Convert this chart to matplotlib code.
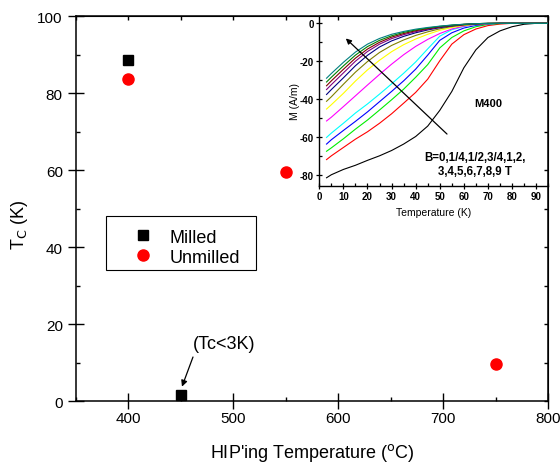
import matplotlib
matplotlib.use("Agg")
import matplotlib.pyplot as plt
from matplotlib.patches import Rectangle
from matplotlib.ticker import MultipleLocator

plt.rcParams['font.family'] = ['Liberation Sans', 'DejaVu Sans']
plt.rcParams['axes.unicode_minus'] = False

# Critical temperature vs HIP'ing temperature
milled_hip = [400, 450]
milled_tc = [88.7, 1.7]
unmilled_hip = [400, 550, 750]
unmilled_tc = [83.7, 59.5, 9.8]

# Inset: M(T) for sample M400 at fields B = 0 ... 9 T
temp_k = [3, 5, 10, 15, 20, 25, 30, 35, 40, 45, 50, 55, 60, 65, 70, 75, 80, 85, 90, 95]
m_b0 = [-81.6, -80.0, -77.2, -75.0, -72.4, -70.0, -67.2, -63.8, -59.8, -54.3, -46.0, -36.0, -23.5, -14.0, -7.5, -4.0, -1.8, -0.5, 0.0, 0.0]
m_b0_25 = [-72.0, -70.0, -65.6, -61.2, -57.3, -52.8, -47.8, -42.2, -36.5, -29.5, -19.8, -11.0, -6.0, -3.0, -1.2, -0.4, 0.0, 0.0, 0.0, 0.0]
m_b0_5 = [-67.6, -65.8, -61.0, -55.9, -51.1, -45.8, -40.4, -34.8, -28.5, -21.8, -13.0, -7.5, -4.0, -1.8, -0.6, -0.1, 0.0, 0.0, 0.0, 0.0]
m_b0_75 = [-63.8, -61.5, -56.6, -51.8, -46.8, -41.4, -36.0, -30.4, -24.2, -16.8, -9.0, -5.0, -2.5, -1.1, -0.3, 0.0, 0.0, 0.0, 0.0, 0.0]
m_b1 = [-60.3, -58.0, -52.8, -47.4, -42.6, -37.4, -32.0, -26.4, -20.4, -13.5, -6.8, -3.4, -1.7, -0.7, -0.2, 0.0, 0.0, 0.0, 0.0, 0.0]
m_b2 = [-51.6, -49.6, -44.0, -38.3, -32.6, -27.0, -21.6, -16.6, -12.2, -8.5, -5.4, -3.0, -1.5, -0.6, -0.2, 0.0, 0.0, 0.0, 0.0, 0.0]
m_b3 = [-45.3, -43.0, -37.0, -30.5, -24.6, -19.5, -15.0, -11.3, -8.3, -5.8, -3.7, -2.2, -1.1, -0.5, -0.1, 0.0, 0.0, 0.0, 0.0, 0.0]
m_b4 = [-41.2, -38.8, -32.2, -25.8, -20.2, -15.4, -11.7, -8.8, -6.4, -4.5, -2.9, -1.7, -0.9, -0.4, -0.1, 0.0, 0.0, 0.0, 0.0, 0.0]
m_b5 = [-37.6, -35.0, -28.8, -22.4, -16.9, -12.5, -9.3, -6.9, -5.0, -3.5, -2.3, -1.4, -0.7, -0.3, -0.1, 0.0, 0.0, 0.0, 0.0, 0.0]
m_b6 = [-35.0, -32.4, -26.2, -20.0, -14.9, -11.0, -8.1, -6.0, -4.4, -3.1, -2.0, -1.2, -0.6, -0.3, -0.1, 0.0, 0.0, 0.0, 0.0, 0.0]
m_b7 = [-33.0, -30.4, -24.3, -18.4, -13.6, -10.0, -7.3, -5.4, -3.9, -2.8, -1.8, -1.1, -0.6, -0.2, 0.0, 0.0, 0.0, 0.0, 0.0, 0.0]
m_b8 = [-31.0, -28.5, -22.5, -16.8, -12.3, -9.0, -6.6, -4.8, -3.5, -2.5, -1.6, -1.0, -0.5, -0.2, 0.0, 0.0, 0.0, 0.0, 0.0, 0.0]
m_b9 = [-29.0, -26.5, -20.6, -15.2, -11.0, -8.0, -5.8, -4.3, -3.1, -2.2, -1.5, -0.9, -0.5, -0.2, 0.0, 0.0, 0.0, 0.0, 0.0, 0.0]

inset_curves = [m_b0, m_b0_25, m_b0_5, m_b0_75, m_b1, m_b2, m_b3,
                m_b4, m_b5, m_b6, m_b7, m_b8, m_b9]
inset_colors = ['#000000', '#ff0000', '#00ee00', '#0000ff', '#00ffff', '#ff00ff',
                '#ffff00', '#808000', '#000080', '#800080', '#800000', '#008000',
                '#008080']

fig = plt.figure(figsize=(5.6, 4.64), dpi=100)
ax = fig.add_axes([0.1352, 0.1330, 0.8437, 0.8297])

ax.plot(milled_hip, milled_tc, linestyle='none', marker='s', markersize=7,
        color='black', label='Milled')
ax.plot(unmilled_hip, unmilled_tc, linestyle='none', marker='o', markersize=8,
        color='red', label='Unmilled')

ax.set_xlim(350, 800)
ax.set_ylim(0, 100)
ax.xaxis.set_major_locator(MultipleLocator(100))
ax.xaxis.set_minor_locator(MultipleLocator(50))
ax.yaxis.set_major_locator(MultipleLocator(20))
ax.yaxis.set_minor_locator(MultipleLocator(10))
ax.tick_params(which='major', direction='inout', length=11.5, width=1.0,
               labelsize=11, top=False, right=False)
ax.tick_params(which='minor', direction='in', length=3, width=1.0,
               top=False, right=False)
ax.tick_params(axis='x', which='major', pad=1)
for s in ax.spines.values():
    s.set_linewidth(1.1)

# inward ticks on the top and right frame
sx = ax.secondary_xaxis('top')
sx.xaxis.set_major_locator(MultipleLocator(100))
sx.xaxis.set_minor_locator(MultipleLocator(50))
sx.tick_params(which='both', direction='in', length=3, width=1.0, labeltop=False)
sy = ax.secondary_yaxis('right')
sy.yaxis.set_major_locator(MultipleLocator(20))
sy.yaxis.set_minor_locator(MultipleLocator(10))
sy.tick_params(which='both', direction='in', length=3, width=1.0, labelright=False)

ax.set_xlabel("HIP'ing Temperature ($^{\\mathrm{o}}$C)", fontsize=13, labelpad=12)
ax.set_ylabel("T$_{\\mathrm{C}}$ (K)", fontsize=13)
ax.yaxis.set_label_coords(-0.097, 0.4605)

# legend with a plain rectangular frame
ax.add_patch(Rectangle((0.0641, 0.341), 0.3175, 0.1403, transform=ax.transAxes,
                       fill=False, edgecolor='black', lw=0.8, zorder=4))
ax.legend(loc='upper left', bbox_to_anchor=(0.1234, 0.448), fontsize=13,
          frameon=False, handlelength=1.0, handletextpad=0.95, borderpad=0,
          labelspacing=0.15, borderaxespad=0)

ax.annotate('', xy=(451.2, 3.8), xytext=(461.7, 11.5),
            arrowprops=dict(arrowstyle='-|>', color='black', lw=0.9,
                            mutation_scale=9, shrinkA=0, shrinkB=0))
ax.text(491, 15.0, '(Tc<3K)', fontsize=13, ha='center', va='center')

# inset
ins = fig.add_axes([0.5702, 0.598, 0.4087, 0.3647])
ins.patch.set_alpha(0)
for m, c in zip(inset_curves, inset_colors):
    ins.plot(temp_k, m, color=c, lw=0.8)
ins.set_xlim(0, 95)
ins.set_ylim(-85.7, 3.7)
ins.xaxis.set_major_locator(MultipleLocator(10))
ins.xaxis.set_minor_locator(MultipleLocator(5))
ins.yaxis.set_major_locator(MultipleLocator(20))
ins.yaxis.set_minor_locator(MultipleLocator(10))
ins.tick_params(which='major', direction='inout', length=5, width=0.9,
                labelsize=7, pad=1.5, top=False, right=False)
ins.tick_params(which='minor', direction='in', length=2, width=0.9,
                top=False, right=False)
for lab in ins.get_xticklabels() + ins.get_yticklabels():
    lab.set_fontweight('bold')
ins.spines['top'].set_visible(False)
ins.spines['right'].set_visible(False)
for k in ('left', 'bottom'):
    ins.spines[k].set_linewidth(1.0)
ins.set_xlabel('Temperature (K)', fontsize=7.5, labelpad=4)
ins.set_ylabel('M (A/m)', fontsize=7.5, labelpad=0)

ins.annotate('', xy=(11, -8), xytext=(53, -58.5),
             arrowprops=dict(arrowstyle='-|>', color='black', lw=0.9,
                             mutation_scale=8, shrinkA=0, shrinkB=0))
ins.text(70.1, -41.9, 'M400', fontsize=8, fontweight='bold', ha='center', va='center')
ins.text(64.5, -74.3, 'B=0,1/4,1/2,3/4,1,2,\n3,4,5,6,7,8,9 T', fontsize=8.3,
         fontweight='bold', ha='center', va='center', linespacing=1.2)

fig.savefig('out.png', dpi=100)
